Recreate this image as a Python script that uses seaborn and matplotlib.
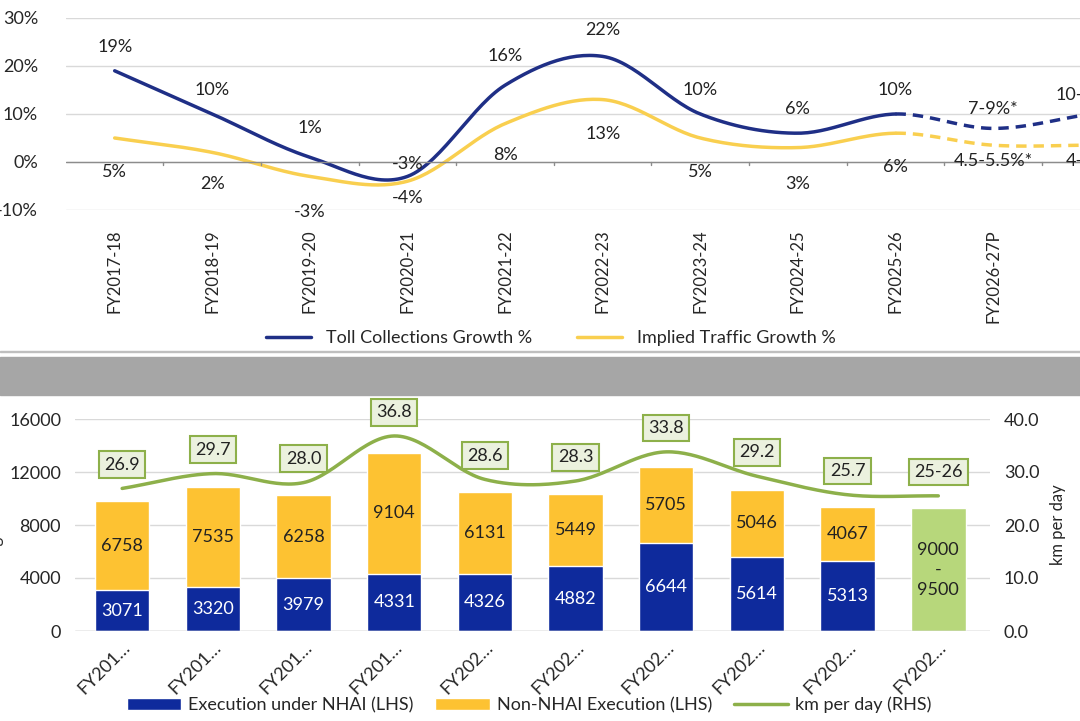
import numpy as np
import matplotlib
matplotlib.use("Agg")
import matplotlib.pyplot as plt
import seaborn as sns
import pandas as pd
from matplotlib.patches import Rectangle

sns.set_theme(style="white")
plt.rcParams['font.family'] = ['Lato', 'DejaVu Sans']

# ---- top chart data
years_top = ["FY2017-18","FY2018-19","FY2019-20","FY2020-21","FY2021-22","FY2022-23",
             "FY2023-24","FY2024-25","FY2025-26","FY2026-27P","FY2027-28P"]
toll = [19,10,1,-3,16,22,10,6,10,7,10]
traffic = [5,2,-3,-4,8,13,5,3,6,3.5,3.5]
toll_lbl = ["19%","10%","1%","-3%","16%","22%","10%","6%","10%","7-9%*","10-12%*"]
traffic_lbl = ["5%","2%","-3%","-4%","8%","13%","5%","3%","6%","4.5-5.5%*","4-5%*"]

# ---- bottom chart data
years_bot = ["FY2016-17","FY2017-18","FY2018-19","FY2019-20","FY2020-21","FY2021-22",
             "FY2022-23","FY2023-24","FY2024-25","FY2025-26"]
nhai = [3071,3320,3979,4331,4326,4882,6644,5614,5313]
non_nhai = [6758,7535,6258,9104,6131,5449,5705,5046,4067]
proj_total = 9250
kmpd = [26.9,29.7,28.0,36.8,28.6,28.3,33.8,29.2,25.7,25.5]
kmpd_lbl = ["26.9","29.7","28.0","36.8","28.6","28.3","33.8","29.2","25.7","25-26"]

def smooth(y, n=30):
    y = np.asarray(y, float)
    p = np.concatenate([[2*y[0]-y[1]], y, [2*y[-1]-y[-2]]])
    xs, ys = [], []
    for i in range(len(y)-1):
        p0, p1, p2, p3 = p[i], p[i+1], p[i+2], p[i+3]
        t = np.linspace(0, 1, n, endpoint=False)
        yy = 0.5*((2*p1) + (-p0+p2)*t + (2*p0-5*p1+4*p2-p3)*t**2 + (-p0+3*p1-3*p2+p3)*t**3)
        xs.append(i+t); ys.append(yy)
    xs.append([len(y)-1]); ys.append([y[-1]])
    return np.concatenate(xs), np.concatenate(ys)

fig = plt.figure(figsize=(10.8, 7.21), dpi=100)
navy = "#1f2f86"; yel = "#f9cf4f"

# ---------- top
ax = fig.add_axes([0.061, 1-210/721, (97.6*10.8)/1080, (210-18)/721])
ax.set_xlim(-0.5, 10.3)
ax.set_ylim(-10, 30)
xt, yt = smooth(toll)
xf, yf = smooth(traffic)
solid = xt <= 8; dash = xt >= 8
ax.plot(xt[solid], yt[solid], color=navy, lw=2.5, label="Toll Collections Growth %")
ax.plot(xt[dash], yt[dash], color=navy, lw=2.5, ls=(0, (3, 2)))
ax.plot(xf[solid], yf[solid], color=yel, lw=2.5, label="Implied Traffic Growth %")
ax.plot(xf[dash], yf[dash], color=yel, lw=2.5, ls=(0, (3, 2)))
ax.set_yticks([-10, 0, 10, 20, 30])
ax.set_yticklabels(["-10%", "0%", "10%", "20%", "30%"], fontsize=13)
ax.yaxis.grid(True, color="#d9d9d9", lw=1)
ax.axhline(0, color="#8c8c8c", lw=1)
ax.set_xticks(range(len(years_top)))
ax.set_xticklabels(years_top, rotation=90, fontsize=12)
ax.tick_params(axis='x', pad=14, length=0)
ax.tick_params(axis='y', length=0, pad=20)
for s in ax.spines.values():
    s.set_visible(False)
for i in range(len(years_top)):
    ax.plot([i+0.5, i+0.5], [-0.6, 0], color="#8c8c8c", lw=1, clip_on=False)
toll_off = [5, 5, 6, 2.5, 6, 5.5, 5, 5, 5, 4, 4]
for i, (v, l) in enumerate(zip(toll, toll_lbl)):
    ax.text(i, v+toll_off[i], l, ha="center", va="center", fontsize=13, color="#222")
traf_pos = [-2, -4.5, -10.5, -7.5, 1.5, 5.8, -2, -4.5, -1, 0.2, 0.2]
for i, (p, l) in enumerate(zip(traf_pos, traffic_lbl)):
    ax.text(i, p, l, ha="center", va="center", fontsize=13, color="#222")
fig.legend(*ax.get_legend_handles_labels(), loc="center", bbox_to_anchor=(0.51, 1-338/721),
           ncol=2, frameon=False, fontsize=13, handlelength=2.5, columnspacing=2.5)

# gray band
fig.patches.append(Rectangle((0, 1-395/721), 1, 38/721, transform=fig.transFigure,
                             color="#a6a6a6", zorder=0))
fig.patches.append(Rectangle((0, 1-352/721), 1, 1/721, transform=fig.transFigure,
                             color="#bfbfbf", zorder=0))

# ---------- bottom
bx = fig.add_axes([75/1080, 1-631/721, (990-75)/1080, (631-419)/721])
df = pd.DataFrame({"year": years_bot[:9], "nhai": nhai, "non": non_nhai})
df["total"] = df["nhai"] + df["non"]
sns.barplot(data=df, x="year", y="total", color="#fdc232", ax=bx, width=0.6,
            label="Non-NHAI Execution (LHS)", order=years_bot, saturation=1)
sns.barplot(data=df, x="year", y="nhai", color="#0e2a9c", ax=bx, width=0.6,
            label="Execution under NHAI (LHS)", order=years_bot, saturation=1)
if bx.get_legend() is not None:
    bx.get_legend().remove()
bx.bar(9, proj_total, width=0.6, color="#b7d77b")
bx.set_xlim(-0.52, 9.57)
bx.set_ylim(0, 16000)
bx.set_yticks([0, 4000, 8000, 12000, 16000])
bx.tick_params(axis='y', labelsize=13, length=0, pad=10)
bx.yaxis.grid(True, color="#d9d9d9", lw=1)
bx.set_axisbelow(True)
for s in bx.spines.values():
    s.set_visible(False)
bx.axhline(0, color="#bfbfbf", lw=1)
bx.set_xlabel("")
bx.set_ylabel("Length in km", fontsize=12, labelpad=4)
bx.set_xticks(range(10))
bx.set_xticklabels([y[:5] + "…" for y in years_bot], rotation=45, ha="right",
                   rotation_mode="anchor", fontsize=13)
bx.tick_params(axis='x', length=0, pad=6)
for i in range(9):
    bx.text(i, nhai[i]/2, str(nhai[i]), ha="center", va="center", color="white", fontsize=13)
    bx.text(i, nhai[i] + non_nhai[i]/2, str(non_nhai[i]), ha="center", va="center",
            color="#222", fontsize=13)
bx.text(9, proj_total/2, "9000\n-\n9500", ha="center", va="center", color="#222",
        fontsize=13, linespacing=1.3)

rx = bx.twinx()
rx.set_ylim(0, 40)
rx.set_yticks([0, 10, 20, 30, 40])
rx.set_yticklabels(["0.0", "10.0", "20.0", "30.0", "40.0"])
rx.tick_params(axis='y', labelsize=13, length=0, pad=10)
for s in rx.spines.values():
    s.set_visible(False)
rx.set_ylabel("km per day", fontsize=12, labelpad=8)
xk, yk = smooth(kmpd)
rx.plot(xk, yk, color="#8db04a", lw=2.5, label="km per day (RHS)")
for i, (v, l) in enumerate(zip(kmpd, kmpd_lbl)):
    rx.text(i, v + 4.5, l, ha="center", va="center", fontsize=13, color="#222",
            bbox=dict(boxstyle="square,pad=0.3", fc="#ebf1de", ec="#8db04a", lw=1.5),
            clip_on=False)

h1, l1 = bx.get_legend_handles_labels()
h2, l2 = rx.get_legend_handles_labels()
fig.legend([h1[1], h1[0], h2[0]], [l1[1], l1[0], l2[0]], loc="center",
           bbox_to_anchor=(0.49, 1-705/721), ncol=3, frameon=False, fontsize=13,
           handlelength=3, columnspacing=1.2, handletextpad=0.4)

fig.savefig("out.png", dpi=100)
